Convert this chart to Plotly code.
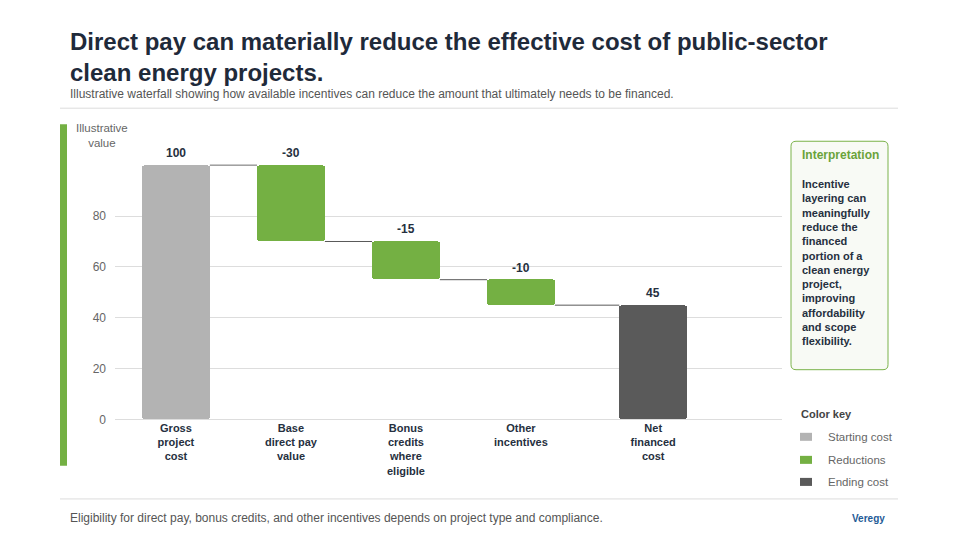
import plotly.graph_objects as go

# ---------------- data ----------------
categories = ["Gross<br>project<br>cost", "Base<br>direct pay<br>value",
              "Bonus<br>credits<br>where<br>eligible", "Other<br>incentives",
              "Net<br>financed<br>cost"]
values = [100, -30, -15, -10, 45]
kinds = ["start", "reduction", "reduction", "reduction", "end"]
y_ticks = [0, 20, 40, 60, 80, 100]
y_tick_labels = ["0", "20", "40", "60", "80", ""]
key_labels = ["Starting cost", "Reductions", "Ending cost"]
key_kinds = ["start", "reduction", "end"]

# ---------------- layout helpers ----------------
x_pos = [0, 1, 2, 3, 4.15]
BAR_W = 0.59
colors = {"start": "#b3b3b3", "reduction": "#74b043", "end": "#5a5a5a"}
FONT = "Liberation Sans, Arial, sans-serif"
DARK = "#263040"
W, H = 960, 540
HY = 532  # effective rendered paper height


def px(x):
    return x / W


def py(y):
    return 1 - y / HY


# compute waterfall geometry from values
bases, heights, tops, levels = [], [], [], []
running = 0
for v, k in zip(values, kinds):
    if k == "start":
        bases.append(0); heights.append(v); tops.append(v); running = v
    elif k == "reduction":
        bases.append(running + v); heights.append(-v); tops.append(running); running += v
    else:
        bases.append(0); heights.append(v); tops.append(v); running = v
    levels.append(running)

fig = go.Figure()
fig.add_trace(go.Bar(
    x=x_pos, y=heights, base=bases, width=BAR_W,
    marker=dict(color=[colors[k] for k in kinds], line=dict(width=0), cornerradius=3),
    hoverinfo="skip", showlegend=False,
))

shapes = []
# connectors
for i in range(len(values) - 1):
    shapes.append(dict(type="line", xref="x", yref="y",
                       x0=x_pos[i] + BAR_W / 2, x1=x_pos[i + 1] - BAR_W / 2,
                       y0=levels[i], y1=levels[i], line=dict(color="#595959", width=1)))
# separators
for yy in (108, 498):
    shapes.append(dict(type="line", xref="paper", yref="paper", x0=px(60), x1=px(898),
                       y0=py(yy), y1=py(yy), line=dict(color="#dcdcdc", width=1)))
# green stripe
shapes.append(dict(type="rect", xref="paper", yref="paper", x0=px(60), x1=px(67),
                   y0=py(465), y1=py(124), fillcolor="#74b043", line=dict(width=0)))
# interpretation box (rounded)
bx0, bx1, by0, by1, r = 791, 888, 141, 369, 5
rx, ry = r / W, r / HY
X0, X1, Y0, Y1 = px(bx0), px(bx1), py(by1), py(by0)
path = (f"M {X0+rx},{Y1} L {X1-rx},{Y1} Q {X1},{Y1} {X1},{Y1-ry} "
        f"L {X1},{Y0+ry} Q {X1},{Y0} {X1-rx},{Y0} L {X0+rx},{Y0} "
        f"Q {X0},{Y0} {X0},{Y0+ry} L {X0},{Y1-ry} Q {X0},{Y1} {X0+rx},{Y1} Z")
shapes.append(dict(type="path", xref="paper", yref="paper", path=path,
                   fillcolor="#f8faf5", line=dict(color="#7bb24a", width=1)))
# color key swatches
for k, yy in zip(key_kinds, (436, 459, 481)):
    shapes.append(dict(type="rect", xref="paper", yref="paper", x0=px(800), x1=px(812),
                       y0=py(yy + 4), y1=py(yy - 4), fillcolor=colors[k], line=dict(width=0)))

ann = []
# value labels above each bar (data coordinates)
for xv, top, v in zip(x_pos, tops, values):
    ann.append(dict(text=f"{v}", x=xv, y=top, xref="x", yref="y", xanchor="center",
                    yanchor="bottom", yshift=3, showarrow=False,
                    font=dict(family=FONT, size=12, color=DARK, weight="bold")))


def add_text(text, x, y, size, color, bold=False, xanchor="left", align="left"):
    ann.append(dict(text=text, x=px(x), y=py(y), xref="paper", yref="paper",
                    xanchor=xanchor, yanchor="middle", align=align, showarrow=False,
                    font=dict(family=FONT, size=size, color=color,
                              weight="bold" if bold else "normal")))


add_text("Direct pay can materially reduce the effective cost of public-sector<br>clean energy projects.",
         68, 57, 24, "#1f2a3a", bold=True)
add_text("Illustrative waterfall showing how available incentives can reduce the amount that ultimately needs to be financed.",
         68, 94, 12, "#555555")
add_text("Illustrative<br>value", 102, 135, 11.5, "#666666", xanchor="center", align="center")
add_text("Interpretation", 800, 155, 12, "#6aa33a", bold=True)
add_text("Incentive<br>layering can<br>meaningfully<br>reduce the<br>financed<br>portion of a<br>clean energy<br>project,<br>improving<br>affordability<br>and scope<br>flexibility.",
         800, 262.5, 11, DARK, bold=True)
add_text("Color key", 799, 413, 11, "#444444", bold=True)
for lab, yy in zip(key_labels, (436, 459, 481)):
    add_text(lab, 826, yy, 11.5, "#666666")
add_text("Eligibility for direct pay, bonus credits, and other incentives depends on project type and compliance.",
         68, 517, 12, "#555555")
add_text("Veregy", 868, 518, 10, "#1f5b96", bold=True, xanchor="center")

fig.update_layout(
    width=W, height=H,
    margin=dict(l=0, r=0, t=0, b=0),
    paper_bgcolor="white", plot_bgcolor="white",
    shapes=shapes, annotations=ann, showlegend=False,
    bargap=0,
    xaxis=dict(domain=[px(115), px(782)], range=[-0.53, 5.27],
               tickvals=x_pos, ticktext=categories, showgrid=False, zeroline=False,
               showline=False, ticks="",
               tickfont=dict(family=FONT, size=11, color=DARK, weight="bold"),
               fixedrange=True),
    yaxis=dict(domain=[py(419), py(164)], range=[0, 100.3],
               tickvals=y_ticks, ticktext=y_tick_labels, showgrid=True,
               gridcolor="#dddddd", gridwidth=1, zeroline=True, zerolinecolor="#dddddd",
               zerolinewidth=1, showline=False, ticks="", ticklabelstandoff=8,
               tickfont=dict(family=FONT, size=12, color="#666666"), fixedrange=True),
)

fig.write_html("out.html")
